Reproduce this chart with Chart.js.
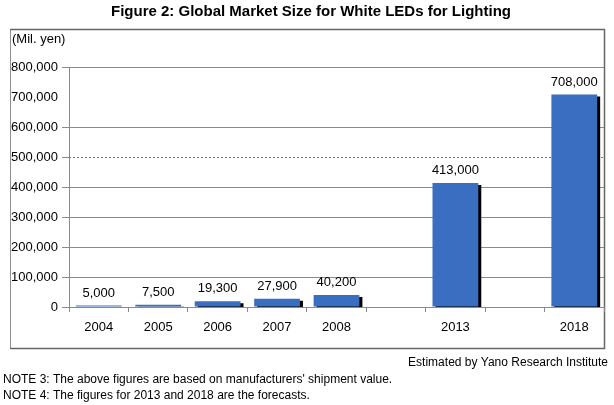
<!DOCTYPE html>
<html>
<head>
<meta charset="utf-8">
<script src="https://cdn.jsdelivr.net/npm/chart.js@4.4.0/dist/chart.umd.min.js"></script>
<style>
  html, body { margin: 0; padding: 0; background: #fff; }
  #wrap { width: 614px; height: 405px; position: relative; }
</style>
</head>
<body>
<div id="wrap"><canvas id="chart"></canvas></div>
<script>
// Chart data
const years = ['2004', '2005', '2006', '2007', '2008', '', '2013', '', '2018'];
const marketSize = [5000, 7500, 19300, 27900, 40200, null, 413000, null, 708000];
const yTicks = [0, 100000, 200000, 300000, 400000, 500000, 600000, 700000, 800000];

const chartTitle = 'Figure 2: Global Market Size for White LEDs for Lighting';
const unitLabel = '(Mil. yen)';
const sourceNote = 'Estimated by Yano Research Institute';
const notes = [
    "NOTE 3: The above figures are based on manufacturers' shipment value.",
    'NOTE 4: The figures for 2013 and 2018 are the forecasts.'
];

const FONT = '"Liberation Sans", Arial, sans-serif';
const GRID = '#8a8a8a';
const NONE = 'rgba(0,0,0,0)';

// Draws frame, texts, dashed 500,000 line, bar shadows and value labels
const decorPlugin = {
    id: 'decor',
    beforeDraw(chart) {
        const ctx = chart.ctx;
        ctx.save();
        ctx.fillStyle = '#fff';
        ctx.fillRect(0, 0, chart.width, chart.height);

        // frame
        ctx.strokeStyle = '#666';
        ctx.lineWidth = 1.5;
        ctx.beginPath();
        ctx.moveTo(10.5, 29.5);
        ctx.lineTo(604.5, 29.5);
        ctx.lineTo(604.5, 348.5);
        ctx.lineTo(10.5, 348.5);
        ctx.stroke();
        ctx.lineWidth = 1;
        ctx.strokeStyle = '#222';
        ctx.setLineDash([1, 1]);
        ctx.beginPath();
        ctx.moveTo(10.5, 29.5);
        ctx.lineTo(10.5, 348.5);
        ctx.stroke();
        ctx.setLineDash([]);

        // title
        ctx.fillStyle = '#000';
        ctx.font = 'bold 15px ' + FONT;
        ctx.textAlign = 'center';
        ctx.textBaseline = 'middle';
        ctx.fillText(chartTitle, 311, 12);

        // unit
        ctx.font = '13px ' + FONT;
        ctx.textAlign = 'left';
        ctx.fillText(unitLabel, 12, 39);

        // footer
        ctx.font = '12px ' + FONT;
        ctx.textAlign = 'right';
        ctx.fillText(sourceNote, 608, 363);
        ctx.textAlign = 'left';
        ctx.fillText(notes[0], 3, 380);
        ctx.fillText(notes[1], 3, 396);
        ctx.restore();
    },
    beforeDatasetsDraw(chart) {
        const ctx = chart.ctx;
        const y = Math.round(chart.scales.y.getPixelForValue(500000)) + 0.5;
        ctx.save();
        ctx.strokeStyle = '#777';
        ctx.lineWidth = 1;
        ctx.setLineDash([2, 2]);
        ctx.beginPath();
        ctx.moveTo(chart.chartArea.left, y);
        ctx.lineTo(chart.chartArea.right, y);
        ctx.stroke();
        ctx.restore();
    },
    beforeDatasetDraw(chart) {
        const ctx = chart.ctx;
        ctx.save();
        ctx.shadowColor = '#000';
        ctx.shadowOffsetX = 3;
        ctx.shadowOffsetY = 2;
        ctx.shadowBlur = 0;
    },
    afterDatasetDraw(chart) {
        chart.ctx.restore();
    },
    afterDatasetsDraw(chart) {
        const ctx = chart.ctx;
        const meta = chart.getDatasetMeta(0);
        ctx.save();
        ctx.fillStyle = '#000';
        ctx.font = '13px ' + FONT;
        ctx.textAlign = 'center';
        ctx.textBaseline = 'bottom';
        meta.data.forEach((bar, i) => {
            const v = marketSize[i];
            if (v == null) return;
            ctx.fillText(v.toLocaleString('en-US'), bar.x, bar.y - 6);
        });
        ctx.restore();
    }
};

// the reference has no line (and no tick) at 700,000; 500,000 is drawn dashed by the plugin
const gridColor = (c) => {
    if (!c.tick) return GRID;
    return (c.tick.value === 500000 || c.tick.value === 700000) ? NONE : GRID;
};
const tickColor = (c) => (c.tick && c.tick.value === 700000) ? NONE : GRID;

const ctx = document.getElementById('chart');
new Chart(ctx, {
    type: 'bar',
    data: {
        labels: years,
        datasets: [{
            data: marketSize,
            backgroundColor: '#3a6ec0',
            borderWidth: 0,
            barPercentage: 0.77,
            categoryPercentage: 1
        }]
    },
    options: {
        responsive: true,
        maintainAspectRatio: false,
        animation: false,
        layout: { padding: { left: 0, right: 10, top: 67, bottom: 0 } },
        plugins: {
            legend: { display: false },
            title: { display: false },
            tooltip: { enabled: false }
        },
        scales: {
            x: {
                afterFit: (scale) => { scale.height = 98; },
                grid: {
                    drawOnChartArea: false,
                    drawTicks: true,
                    tickLength: 5,
                    color: GRID
                },
                border: { color: GRID },
                ticks: {
                    color: '#000',
                    font: { family: FONT, size: 13 },
                    padding: 8,
                    maxRotation: 0,
                    autoSkip: false
                }
            },
            y: {
                min: 0,
                max: 800000,
                afterFit: (scale) => { scale.width = 69; },
                afterBuildTicks: (scale) => {
                    scale.ticks = yTicks.map(v => ({ value: v }));
                },
                grid: {
                    color: gridColor,
                    tickColor: tickColor,
                    tickLength: 7
                },
                border: { color: GRID },
                ticks: {
                    color: '#000',
                    font: { family: FONT, size: 13 },
                    padding: 4,
                    callback: (v) => Number(v).toLocaleString('en-US')
                }
            }
        }
    },
    plugins: [decorPlugin]
});
</script>
</body>
</html>
